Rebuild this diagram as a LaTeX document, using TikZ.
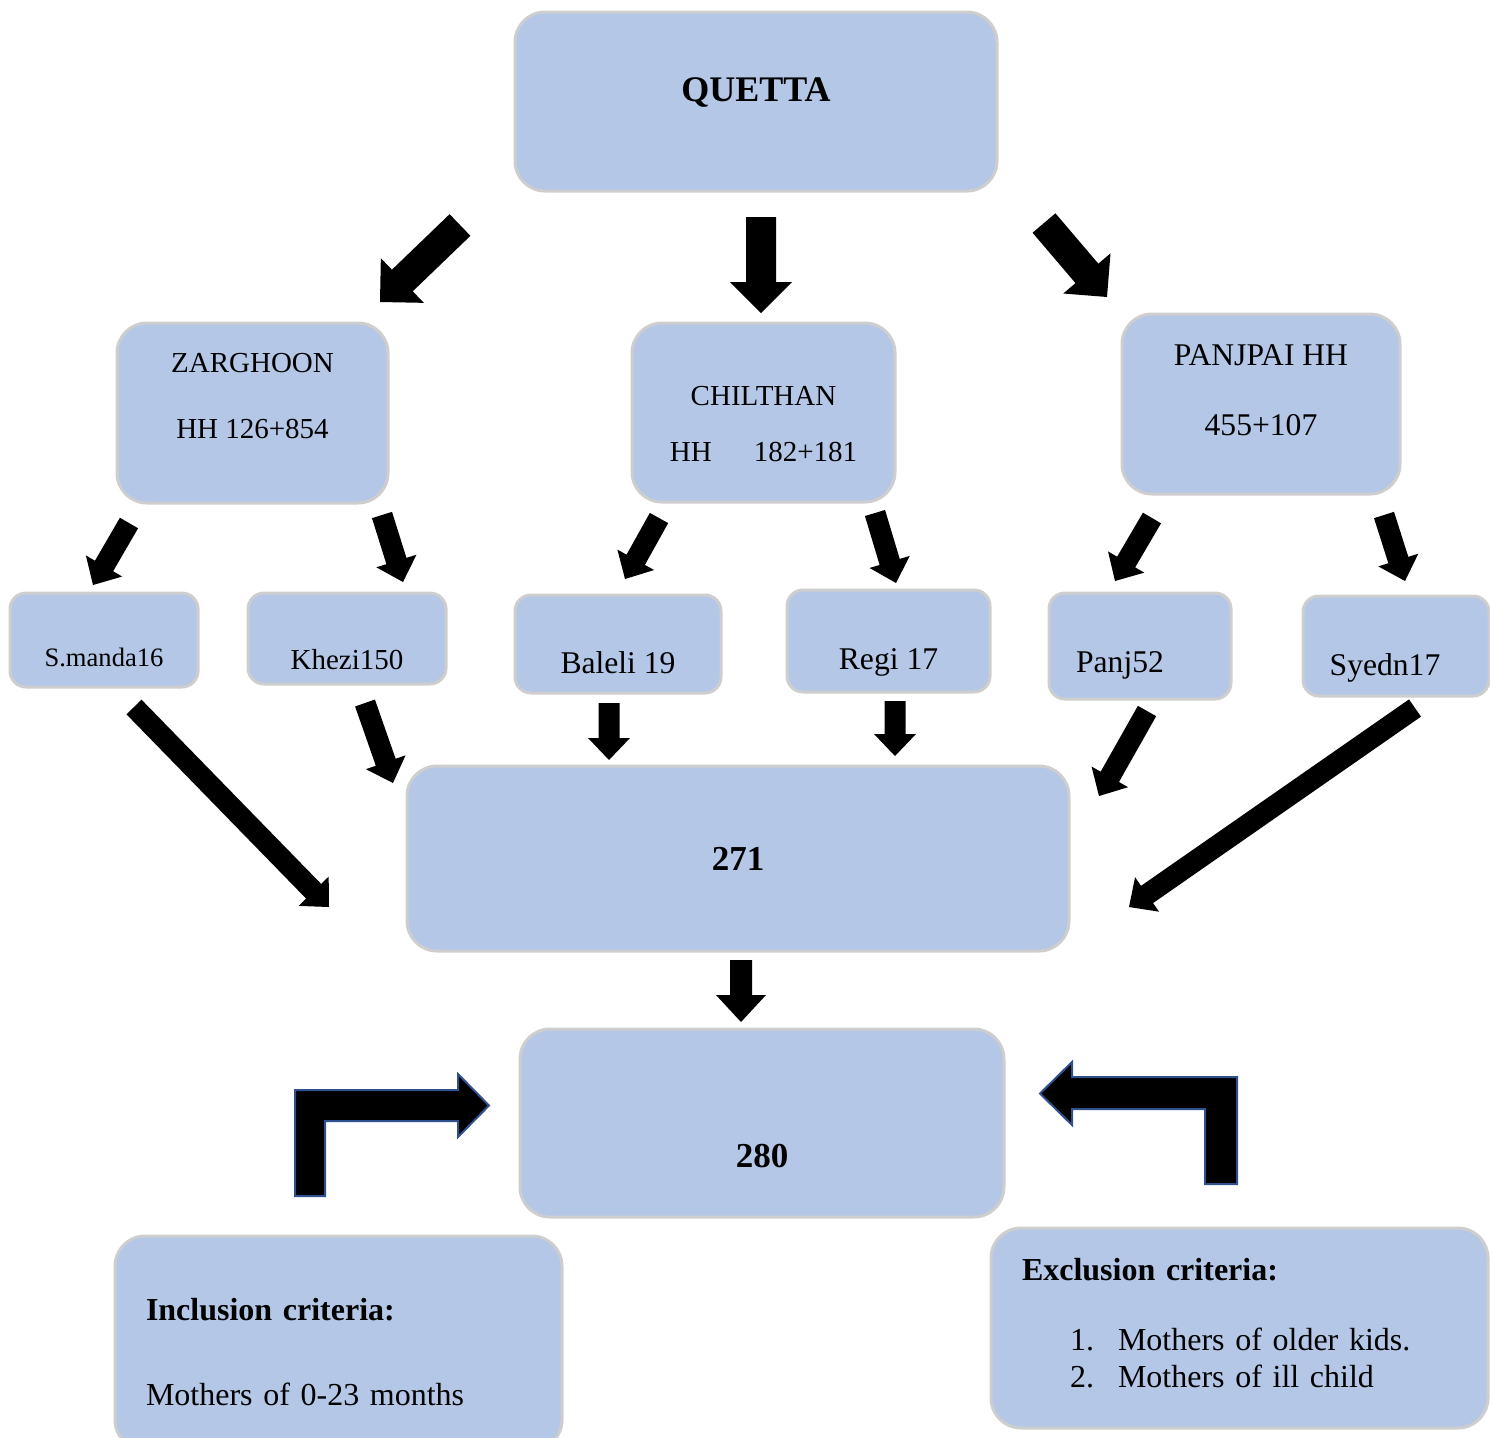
\documentclass[tikz,border=0pt]{standalone}
\usepackage{fontspec}
\setmainfont{Liberation Serif}
\usetikzlibrary{calc, positioning}
\definecolor{BoxFill}{RGB}{180, 199, 231}
\definecolor{BoxLine}{RGB}{206, 206, 206}
\definecolor{ArrowEdge}{RGB}{47, 82, 143}

\begin{document}
\begin{tikzpicture}[
        x = 0.5pt, y = -0.5pt,
        box/.style = {draw=BoxLine, fill=BoxFill, line width=1.5pt, rounded corners=15pt, inner sep=0pt, align=center},
        smallbox/.style = {box, rounded corners=8pt},
        drop/.style = {text height=#1, text depth=0pt},
        lift/.style = {text height=0pt, text depth=#1},
        fatarrow/.style args = {#1/#2/#3}{fill=black, to path={
            let \p1 = ($(\tikztotarget)!#3!(\tikztostart)$) in
            ($(\tikztostart)!#1!90:(\tikztotarget)$) -- ($(\p1)!#1!90:(\tikztotarget)$) --
            ($(\p1)!#2!90:(\tikztotarget)$) -- (\tikztotarget) --
            ($(\p1)!#2!-90:(\tikztotarget)$) -- ($(\p1)!#1!-90:(\tikztotarget)$) --
            ($(\tikztostart)!#1!-90:(\tikztotarget)$) -- cycle}},
        bigarrow/.style = {fatarrow=7.5pt/15.5pt/15.5pt},
        midarrow/.style = {fatarrow=5.25pt/10.5pt/11pt},
        elbow/.style = {fill=black, draw=ArrowEdge, line width=1pt, line join=miter}
    ]
        \useasboundingbox (0,0) rectangle (1490,1437);

        % Top level
        \node (quetta) [box, minimum width=241pt, minimum height=89.5pt, drop=0pt, font=\fontsize{18}{22}\selectfont\bfseries] at (756,101.5) {QUETTA};

        % Second level
        \node (zarghoon) [box, minimum width=135.5pt, minimum height=90pt, drop=25pt, font=\fontsize{14.5}{33}\selectfont] at (252.5,413) {ZARGHOON\\HH 126+854};
        \node (chilthan) [box, minimum width=131.5pt, minimum height=89.5pt, drop=48.5pt, font=\fontsize{14.5}{28}\selectfont] at (763.5,412.5) {CHILTHAN\\HH\hspace{21pt}182+181};
        \node (panjpai) [box, minimum width=139pt, minimum height=90pt, drop=31pt, font=\fontsize{15.8}{35}\selectfont] at (1261,404) {PANJPAI HH\\455+107};

        % Third level
        \node (smanda) [smallbox, minimum width=94pt, minimum height=47pt, drop=26pt, font=\fontsize{13.3}{16}\selectfont] at (104,640) {S.manda16};
        \node (khezi) [smallbox, minimum width=99pt, minimum height=45.5pt, drop=30.5pt, font=\fontsize{14.5}{17}\selectfont] at (347,638.5) {Khezi150};
        \node (baleli) [smallbox, minimum width=103pt, minimum height=49pt, drop=29pt, font=\fontsize{15.8}{19}\selectfont] at (618,644) {Baleli 19};
        \node (regi) [smallbox, minimum width=101.5pt, minimum height=51pt, drop=28pt, font=\fontsize{15.8}{19}\selectfont] at (888.5,641) {Regi 17};
        \node (panj) [smallbox, minimum width=91pt, minimum height=53pt, drop=26pt, font=\fontsize{15.8}{19}\selectfont] at (1140,646) {Panj52\hspace*{20pt}};
        \node (syedn) [smallbox, minimum width=93pt, minimum height=50pt, drop=29pt, font=\fontsize{15.8}{19}\selectfont] at (1396,646) {Syedn17\hspace*{11pt}};

        % Totals
        \node (total) [box, minimum width=331pt, minimum height=92.5pt, drop=11.5pt, font=\fontsize{17.5}{21}\selectfont\bfseries] at (738,858.5) {271};
        \node (sample) [box, minimum width=242pt, minimum height=94pt, drop=44pt, font=\fontsize{17.5}{21}\selectfont\bfseries] at (762,1123) {280};

        % Criteria
        \node (incl) [box, minimum width=223.5pt, minimum height=107pt, inner sep=15.5pt, text width=192.5pt, align=left, lift=23pt, font=\fontsize{16}{42.5}\selectfont] at (338.5,1343) {\textbf{Inclusion criteria:}\\Mothers of 0-23 months};
        \node (excl) [box, minimum width=248.5pt, minimum height=100pt, inner sep=15.5pt, text width=217.5pt, align=left, lift=48pt, font=\fontsize{16}{18.5}\selectfont] at (1239.5,1328) {\textbf{Exclusion criteria:}\\[16.5pt]
            \hspace*{24pt}\makebox[24pt][l]{1.}Mothers of older kids.\\
            \hspace*{24pt}\makebox[24pt][l]{2.}Mothers of ill child};

        % Arrow ends
        \coordinate (qz-t) at (460,225);  \coordinate (qz-h) at (380,302);
        \coordinate (qc-t) at (761,217);  \coordinate (qc-h) at (761,313);
        \coordinate (qp-t) at (1044,223); \coordinate (qp-h) at (1107,297);

        \coordinate (zs-t) at (129,523);  \coordinate (zs-h) at (93,585);
        \coordinate (zk-t) at (382,515);  \coordinate (zk-h) at (403,582);
        \coordinate (cb-t) at (659,518);  \coordinate (cb-h) at (625,579);
        \coordinate (cr-t) at (875,513);  \coordinate (cr-h) at (896,583);
        \coordinate (pp-t) at (1152,518); \coordinate (pp-h) at (1115,581);
        \coordinate (ps-t) at (1384,515); \coordinate (ps-h) at (1405,581);

        \coordinate (st-t) at (134,707);  \coordinate (st-h) at (329,907);
        \coordinate (kt-t) at (365,703);  \coordinate (kt-h) at (393,783);
        \coordinate (bt-t) at (609,703);  \coordinate (bt-h) at (609,760);
        \coordinate (rt-t) at (895,701);  \coordinate (rt-h) at (895,756);
        \coordinate (nt-t) at (1147,711); \coordinate (nt-h) at (1099,796);
        \coordinate (yt-t) at (1415,708); \coordinate (yt-h) at (1129,907);

        \coordinate (ts-t) at (741,960);  \coordinate (ts-h) at (741,1022);

        % Block arrows
        \foreach \e in {qz, qc, qp}
            \fill [bigarrow] (\e-t) to (\e-h);
        \foreach \e in {zs, zk, cb, cr, pp, ps, st, kt, bt, rt, nt, yt}
            \fill [midarrow] (\e-t) to (\e-h);
        \fill [fatarrow=5.5pt/12.5pt/13.5pt] (ts-t) to (ts-h);

        % Elbow arrows into the sample box
        \filldraw [elbow] (295,1196) -- (295,1090) -- (458,1090) -- (458,1074) -- (489,1105.5) -- (458,1137) -- (458,1121) -- (325,1121) -- (325,1196) -- cycle;
        \filldraw [elbow] (1237,1184) -- (1237,1077) -- (1072,1077) -- (1072,1062) -- (1040,1093.5) -- (1072,1125) -- (1072,1109) -- (1205,1109) -- (1205,1184) -- cycle;

    \end{tikzpicture}
\end{document}
